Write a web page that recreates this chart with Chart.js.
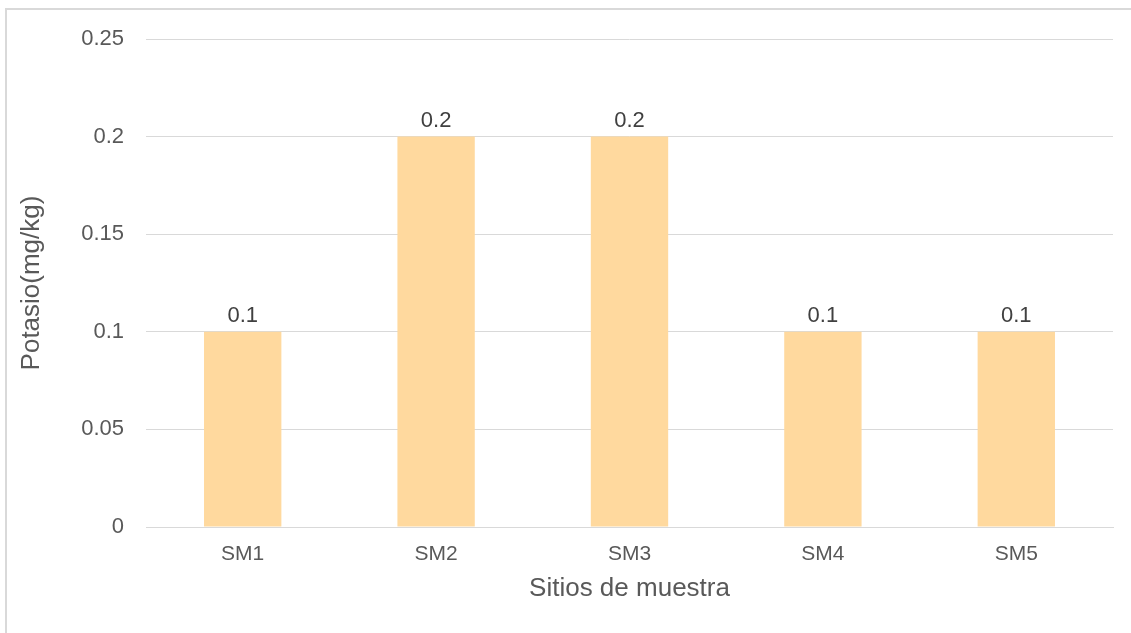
<!DOCTYPE html>
<html>
<head>
<meta charset="utf-8">
<script src="https://cdn.jsdelivr.net/npm/chart.js@4/dist/chart.umd.min.js"></script>
<style>
  html, body { margin: 0; padding: 0; background: #fff; overflow: hidden; }
  #wrap { position: relative; width: 1131px; height: 633px; }
  #frame {
    position: absolute; left: 5px; top: 8px; width: 1140px; height: 640px;
    border: 2px solid #d9d9d9; box-sizing: border-box;
  }
  canvas { position: absolute; left: 0; top: 0; }
</style>
</head>
<body>
<div id="wrap">
  <div id="frame"></div>
  <canvas id="chart" width="1131" height="633"></canvas>
</div>
<script>
// datos
const sitios = ['SM1', 'SM2', 'SM3', 'SM4', 'SM5'];
const potasio = [0.1, 0.2, 0.2, 0.1, 0.1];
const yTicks = [0, 0.05, 0.1, 0.15, 0.2, 0.25];
const yTickLabels = ['0', '0.05', '0.1', '0.15', '0.2', '0.25'];

const fontFamily = '"Liberation Sans", Arial, sans-serif';
const textColor = '#595959';

// etiquetas de valor encima de cada barra
const etiquetas = {
  id: 'etiquetas',
  afterDatasetsDraw(chart) {
    const ctx = chart.ctx;
    const meta = chart.getDatasetMeta(0);
    ctx.save();
    ctx.font = '22px ' + fontFamily;
    ctx.fillStyle = '#404040';
    ctx.textAlign = 'center';
    ctx.textBaseline = 'alphabetic';
    meta.data.forEach((bar, i) => {
      ctx.fillText(String(potasio[i]), bar.x, bar.y - 10);
    });
    ctx.restore();
  }
};

new Chart(document.getElementById('chart').getContext('2d'), {
  type: 'bar',
  data: {
    labels: sitios,
    datasets: [{
      label: 'Potasio',
      data: potasio,
      backgroundColor: '#FFD99E',
      borderWidth: 0,
      barPercentage: 0.4,
      categoryPercentage: 1
    }]
  },
  options: {
    responsive: false,
    animation: false,
    devicePixelRatio: 1,
    layout: { padding: { top: 39, right: 18, left: 0, bottom: 0 } },
    plugins: {
      legend: { display: false },
      tooltip: { enabled: false }
    },
    scales: {
      x: {
        grid: { display: false, drawTicks: false },
        border: { color: '#d9d9d9', width: 1 },
        ticks: { color: textColor, font: { family: fontFamily, size: 21 }, padding: 15 },
        title: {
          display: true, text: 'Sitios de muestra', color: textColor,
          font: { family: fontFamily, size: 26 }, padding: { top: 0, bottom: 29 }
        },
        afterFit: s => { s.height = 106; }
      },
      y: {
        min: 0, max: 0.25,
        afterBuildTicks: s => { s.ticks = yTicks.map(v => ({ value: v })); },
        grid: { color: '#d9d9d9', lineWidth: 1, drawTicks: false },
        border: { display: false },
        ticks: {
          color: textColor, font: { family: fontFamily, size: 22 }, padding: 22,
          callback: (v, i) => yTickLabels[i]
        },
        title: {
          display: true, text: 'Potasio(mg/kg)', color: textColor,
          font: { family: fontFamily, size: 26 }, padding: { top: 16, bottom: 0 }
        },
        afterFit: s => { s.width = 146; }
      }
    }
  },
  plugins: [etiquetas]
});
</script>
</body>
</html>
